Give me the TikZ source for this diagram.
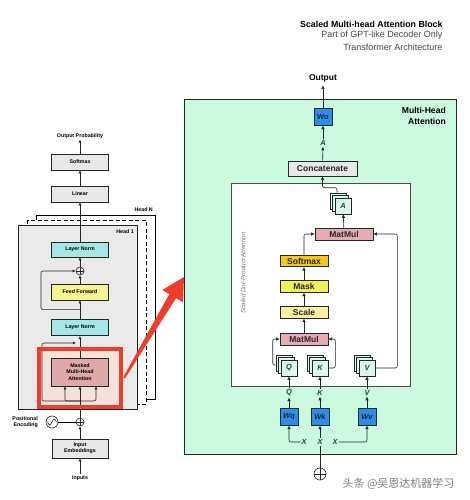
\documentclass[tikz,border=0pt]{standalone}
\usepackage{fontspec}
\setmainfont{Liberation Sans}
\newfontfamily\cjk{Noto Sans CJK SC}
\usetikzlibrary{arrows.meta, shadows, calc}

\definecolor{dark}{RGB}{25,45,35}
\definecolor{mint}{RGB}{204,250,224}
\definecolor{cardc}{RGB}{222,246,234}
\definecolor{labgreen}{RGB}{20,80,50}
\definecolor{wblue}{RGB}{45,140,230}
\definecolor{navy}{RGB}{15,35,80}
\definecolor{pinkc}{RGB}{232,170,180}
\definecolor{softc}{RGB}{245,200,30}
\definecolor{maskc}{RGB}{240,240,90}
\definecolor{scalec}{RGB}{250,240,160}
\definecolor{boxgray}{RGB}{232,232,232}
\definecolor{headgray}{RGB}{234,234,234}
\definecolor{lncyan}{RGB}{165,230,230}
\definecolor{ffyellow}{RGB}{245,245,145}
\definecolor{mhapink}{RGB}{225,168,168}
\definecolor{hlred}{RGB}{240,60,40}
\definecolor{hltint}{RGB}{242,226,218}
\definecolor{subgray}{RGB}{70,70,70}

\newcommand\fsz[2]{\fontsize{#1}{#2}\selectfont}

\tikzset{
    arr/.style={-{Latex[length=3.5pt,width=3.5pt]}, line width=0.6pt, draw=dark},
    larr/.style={-{Latex[length=3pt,width=3pt]}, line width=0.6pt, draw=black!85},
    rbox/.style={draw=dark, line width=0.7pt, inner sep=0, font=\bfseries\fsz{8.5}{9}, text=black!85},
    sbox/.style={rbox, minimum width=48pt, minimum height=11.5pt},
    wbox/.style={draw=dark, line width=0.7pt, fill=wblue, minimum width=18pt, minimum height=16.5pt, inner sep=0, font=\bfseries\itshape\fsz{7.5}{8}, text=navy},
    card/.style={draw=dark, line width=0.6pt, fill=cardc, minimum width=16pt, minimum height=16pt, inner sep=0,
        font=\bfseries\itshape\fsz{7.5}{8}, text=labgreen, double copy shadow={shadow xshift=-2.5pt, shadow yshift=2.5pt}},
    lab/.style={font=\bfseries\itshape\fsz{7.5}{8}, text=labgreen, inner sep=1pt},
    lbox/.style={draw=black!85, line width=0.6pt, minimum width=57pt, minimum height=16pt, inner sep=0, font=\bfseries\fsz{5.3}{6.3}, align=center},
    tlab/.style={font=\bfseries\fsz{5.3}{6.3}, inner sep=1pt, align=center},
    oplus/.style={circle, draw=black!85, line width=0.6pt, inner sep=0, minimum size=8pt,
        path picture={\draw[line width=0.6pt] (path picture bounding box.north) -- (path picture bounding box.south)
            (path picture bounding box.west) -- (path picture bounding box.east);}}
}

\begin{document}
\begin{tikzpicture}[x=1pt, y=-1pt]
    \useasboundingbox (0,0) rectangle (469,500);
    \fill[white] (0,0) rectangle (469,500);

    % title
    \node[anchor=east, font=\bfseries\fsz{8.8}{10}] (title) at (446,24) {Scaled Multi-head Attention Block};
    \node[anchor=east, font=\fsz{9}{10}, text=subgray] (sub1) at (446,35.5) {Part of GPT-like Decoder Only};
    \node[anchor=east, font=\fsz{9}{10}, text=subgray] (sub2) at (446,47) {Transformer Architecture};

    % multi-head attention block
    \node[draw=dark, line width=1.2pt, fill=mint, minimum width=272pt, minimum height=355pt, inner sep=0, anchor=north west] (mha) at (184,99) {};
        \node[anchor=north east, align=right, font=\bfseries\fsz{8.6}{11}, inner sep=0] (mhalab) at (446,107) {Multi-Head\\Attention};
    \node[draw=black!70, line width=0.8pt, fill=white, minimum width=179pt, minimum height=203pt, inner sep=0, anchor=north west] (sdpa) at (231,183) {};
        \node[rotate=90, font=\itshape\fsz{6.3}{7}, text=black!55] (sdpalab) at (243,273) {Scaled Dot-Product Attention};

    \node[font=\bfseries\fsz{8.5}{9}] (out) at (323,78) {Output};
    \node[wbox, font=\bfseries\fsz{7.5}{8}] (wo) at (323,117) {Wo};
    \node[lab] (alab) at (323,143) {A};
    \node[rbox, fill=boxgray, minimum width=69pt, minimum height=15pt] (concat) at (322.5,168.5) {Concatenate};

    \node[card] (ast) at (343,206) {A};
    \node[rbox, fill=pinkc, minimum width=58pt, minimum height=12pt] (mm2) at (344,234) {MatMul};
    \node[sbox, fill=softc] (soft) at (304,261) {Softmax};
    \node[sbox, fill=maskc] (mask) at (304,286.5) {Mask};
    \node[sbox, fill=scalec] (scale) at (304,312.5) {Scale};
    \node[sbox, fill=pinkc, minimum height=12pt] (mm1) at (304,339) {MatMul};

    \node[card] (q) at (289,368) {Q};
    \node[card] (k) at (320,368) {K};
    \node[card] (v) at (367,368) {V};

    \node[lab] (ql) at (289,393) {Q};
    \node[lab] (kl) at (320,393) {K};
    \node[lab] (vl) at (367,393) {V};
    \node[wbox] (wq) at (289,417) {Wq};
    \node[wbox] (wk) at (320,417) {Wk};
    \node[wbox] (wv) at (367,417) {Wv};
    \node[lab] (x1) at (304,442) {X};
    \node[lab] (x2) at (320,442) {X};
    \node[lab] (x3) at (335,442) {X};
    \node[oplus, minimum size=12pt] (plus) at (320,474) {};

    \draw[arr] (wo) -- (out);
    \draw[arr] (alab) -- (wo);
    \draw[arr] (concat) -- (alab);
    \draw[arr, rounded corners=2] ($(ast.north)+(-6,-5)$) -- ++(0,-5) -| (concat.south);
    \draw[arr] (mm2) -- (ast);
    \draw[arr, rounded corners=2] (soft.north) |- (mm2.west);
    \draw[arr] (mask) -- (soft);
    \draw[arr] (scale) -- (mask);
    \draw[arr] (mm1) -- (scale);
    \draw[arr, rounded corners=2] ($(q.west)+(-5,-3)$) -- ++(-3,0) |- (mm1.west);
    \draw[arr, rounded corners=2] (k.east) -- ++(7,0) |- (mm1.east);
    \draw[arr, rounded corners=2] (v.east) -- ++(22,0) |- (mm2.east);
    \foreach \n in {q,k,v}{
        \draw[arr] (\n l) -- (\n);
        \draw[arr] (w\n) -- (\n l);
    }
    \draw[arr, rounded corners=2] (x1.west) -| (wq.south);
    \draw[arr] (x2) -- (wk);
    \draw[arr, rounded corners=2] (x3.east) -| (wv.south);
    \draw[line width=0.6pt, draw=dark] (plus) -- (x2);

    \node[font=\cjk\fsz{11}{12}, text=black!50, anchor=east] (wm) at (458,484) {头条 @吴恩达机器学习};

    % decoder stack
    \draw[fill=white, line width=0.7pt] (36,215) rectangle (155,399);
    \draw[fill=white, line width=0.9pt, dash pattern=on 4pt off 2.5pt] (27,220) rectangle (146,404);
    \node[draw=black!85, fill=headgray, line width=0.7pt, minimum width=119pt, minimum height=184pt, inner sep=0, anchor=north west] (head1) at (18,225) {};
        \node[tlab, anchor=east] (hnlab) at (154,209.5) {Head N};
        \node[tlab, anchor=east] (h1lab) at (135,232) {Head 1};
    \node[fill=hltint, minimum width=82pt, minimum height=58pt, inner sep=0] (hl) at (80,378) {};

    \node[tlab] (outp) at (80,136) {Output Probability};
    \node[lbox, fill=boxgray] (lsoft) at (80,162) {Softmax};
    \node[lbox, fill=boxgray] (lin) at (80,194) {Linear};
    \node[lbox, fill=lncyan, minimum height=15pt] (ln2) at (80,249.5) {Layer Norm};
    \node[oplus] (addf) at (80,271) {};
    \node[lbox, fill=ffyellow] (ff) at (80,292) {Feed Forward};
    \node[lbox, fill=lncyan, minimum height=16.5pt] (ln1) at (80,327.5) {Layer Norm};
    \node[lbox, fill=mhapink, minimum height=28pt] (mmha) at (80,372) {Masked\\Multi-Head\\Attention};
    \node[oplus] (addp) at (80,422) {};
    \node[circle, draw=black!85, line width=0.6pt, minimum size=12pt, inner sep=0] (pe) at (52,422) {};
    \node[tlab, align=right, anchor=east] (pelab) at (39,422) {Positional\\Encoding};
    \node[lbox, fill=boxgray, minimum width=56pt, minimum height=19pt] (emb) at (80,448.5) {Input\\Embeddings};
    \node[tlab] (inp) at (80,478) {Inputs};
    \coordinate (split) at (80,401);
    \coordinate (res) at (76,343);

    \draw[larr] (lsoft) -- (outp);
    \draw[larr] (lin) -- (lsoft);
    \draw[larr] (ln2) -- (lin);
    \draw[larr] (addf) -- (ln2);
    \draw[larr] (ff) -- (addf);
    \draw[larr] (ln1) -- (ff);
    \draw[larr, rounded corners=2] ($(ff.south)!0.5!(ln1.north)$) -- ++(-39,0) |- (addf.west);
    \draw[larr] (mmha) -- (ln1);
    \draw[larr, rounded corners=2] (split) -- ++(-38,0) |- (res);
    \draw[larr] (addp) -- (mmha);
    \draw[larr, rounded corners=2] (split) -| ($(mmha.south)+(-15,0)$);
    \draw[larr, rounded corners=2] (split) -| ($(mmha.south)+(16,0)$);
    \draw[line width=0.6pt] (pe) -- (addp);
    \draw[line width=0.5pt] ($(pe.center)+(-4.5,0)$) sin ($(pe.center)+(-2.25,3)$) cos (pe.center)
        sin ($(pe.center)+(2.25,-3)$) cos ($(pe.center)+(4.5,0)$);
    \draw[larr] (emb) -- (addp);
    \draw[larr] (inp) -- (emb);

    % highlight
    \draw[hlred, line width=3.5pt] (hl.north west) rectangle (hl.south east);
    \fill[hlred] (123.1,377.5) -- (169.3,294.1) -- (162.4,290) -- (184,277) -- (183,302.2) -- (176.1,298.1) -- (124.9,378.5) -- cycle;

\end{tikzpicture}
\end{document}
